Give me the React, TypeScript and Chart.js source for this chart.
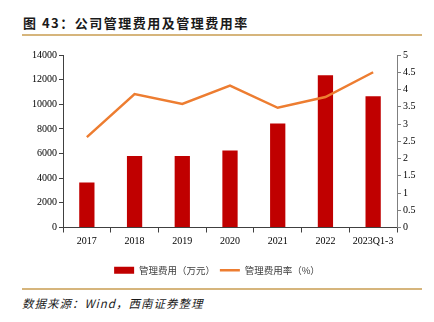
import React, { useEffect, useRef } from "react";
import { Chart, registerables } from "chart.js";

Chart.register(...registerables);

const categories = ["2017", "2018", "2019", "2020", "2021", "2022", "2023Q1-3"];
const expenseValues = [3650, 5800, 5800, 6250, 8450, 12350, 10650];
const expenseRate = [2.62, 3.87, 3.58, 4.11, 3.47, 3.78, 4.5];
const leftTicks = [0, 2000, 4000, 6000, 8000, 10000, 12000, 14000];
const rightTicks = [0, 0.5, 1, 1.5, 2, 2.5, 3, 3.5, 4, 4.5, 5];

const seriesNames = ["管理费用（万元）", "管理费用率（%）"];
const titleText = "图 43：公司管理费用及管理费用率";
const sourceText = "数据来源：Wind，西南证券整理";

const serif = '"Liberation Serif", "Times New Roman", serif';
const cjk = '"Noto Sans CJK SC", "Noto Sans", sans-serif';

export default function App() {
  const canvasRef = useRef<HTMLCanvasElement | null>(null);

  useEffect(() => {
    if (!canvasRef.current) return;
    const chart = new Chart(canvasRef.current, {
      data: {
        labels: categories,
        datasets: [
          {
            type: "line",
            label: seriesNames[1],
            data: expenseRate,
            yAxisID: "y1",
            borderColor: "#ED7D31",
            backgroundColor: "#ED7D31",
            borderWidth: 2.5,
            pointRadius: 0,
            pointStyle: "line",
            tension: 0,
            order: 0,
          },
          {
            type: "bar",
            label: seriesNames[0],
            data: expenseValues,
            yAxisID: "y",
            backgroundColor: "#C00000",
            borderColor: "#C00000",
            borderWidth: 0,
            barPercentage: 0.32,
            categoryPercentage: 1,
            pointStyle: "rect",
            order: 1,
          },
        ],
      } as any,
      options: {
        animation: false,
        responsive: false,
        maintainAspectRatio: false,
        layout: { padding: { top: 15, left: 0, right: 0, bottom: 0 } },
        plugins: {
          tooltip: { enabled: false },
          legend: {
            display: true,
            position: "bottom",
            reverse: true,
            labels: {
              usePointStyle: true,
              pointStyleWidth: 20,
              boxHeight: 7,
              padding: 5,
              color: "#404040",
              font: { family: cjk, size: 9.5 },
            },
          },
        },
        scales: {
          x: {
            type: "category",
            offset: true,
            border: { display: true, color: "#404040", width: 1 },
            grid: {
              display: true,
              offset: true,
              drawOnChartArea: false,
              drawTicks: true,
              tickLength: 5,
              color: "#404040",
            },
            ticks: {
              color: "#000",
              padding: 3,
              maxRotation: 0,
              autoSkip: false,
              font: { family: serif, size: 10 },
            },
            afterFit: (s: any) => {
              s.height = 33;
            },
          },
          y: {
            type: "linear",
            position: "left",
            min: 0,
            max: 14000,
            afterBuildTicks: (s: any) => {
              s.ticks = leftTicks.map((v) => ({ value: v }));
            },
            border: { display: true, color: "#404040", width: 1 },
            grid: {
              display: true,
              drawOnChartArea: false,
              drawTicks: true,
              tickLength: 4,
              color: "#404040",
            },
            ticks: {
              color: "#000",
              padding: 2,
              font: { family: serif, size: 10 },
              callback: (v: any) => String(v),
            },
            afterFit: (s: any) => {
              s.width = 63;
            },
          },
          y1: {
            type: "linear",
            position: "right",
            min: 0,
            max: 5,
            afterBuildTicks: (s: any) => {
              s.ticks = rightTicks.map((v) => ({ value: v }));
            },
            border: { display: true, color: "#7f7f7f", width: 1 },
            grid: {
              display: true,
              drawOnChartArea: false,
              drawTicks: true,
              tickLength: 4,
              color: "#7f7f7f",
            },
            ticks: {
              color: "#000",
              padding: 2,
              font: { family: serif, size: 10 },
              callback: (v: any) => String(v),
            },
            afterFit: (s: any) => {
              s.width = 37;
            },
          },
        },
      } as any,
    });
    return () => chart.destroy();
  }, []);

  return (
    <div
      style={{
        position: "absolute",
        left: 0,
        top: 0,
        width: 434,
        height: 322,
        background: "#fff",
        overflow: "hidden",
      }}
    >
      <div
        style={{
          position: "absolute",
          left: 23,
          top: 14,
          fontFamily: cjk,
          fontWeight: 700,
          fontSize: 13,
          letterSpacing: 1.5,
          color: "#1a1a1a",
          lineHeight: "18px",
          whiteSpace: "nowrap",
        }}
      >
        {titleText}
      </div>
      <div
        style={{
          position: "absolute",
          left: 22,
          top: 34,
          width: 400,
          height: 2,
          background: "#D6B57C",
        }}
      />
      <canvas
        ref={canvasRef}
        width={434}
        height={245}
        style={{ position: "absolute", left: 0, top: 40, width: 434, height: 245 }}
      />
      <div
        style={{
          position: "absolute",
          left: 22,
          top: 288,
          width: 400,
          height: 1.5,
          background: "#D6B57C",
        }}
      />
      <div
        style={{
          position: "absolute",
          left: 22,
          top: 295,
          fontFamily: cjk,
          fontStyle: "italic",
          fontSize: 11.5,
          letterSpacing: 1,
          color: "#1a1a1a",
          lineHeight: "16px",
          whiteSpace: "nowrap",
        }}
      >
        {sourceText}
      </div>
    </div>
  );
}
